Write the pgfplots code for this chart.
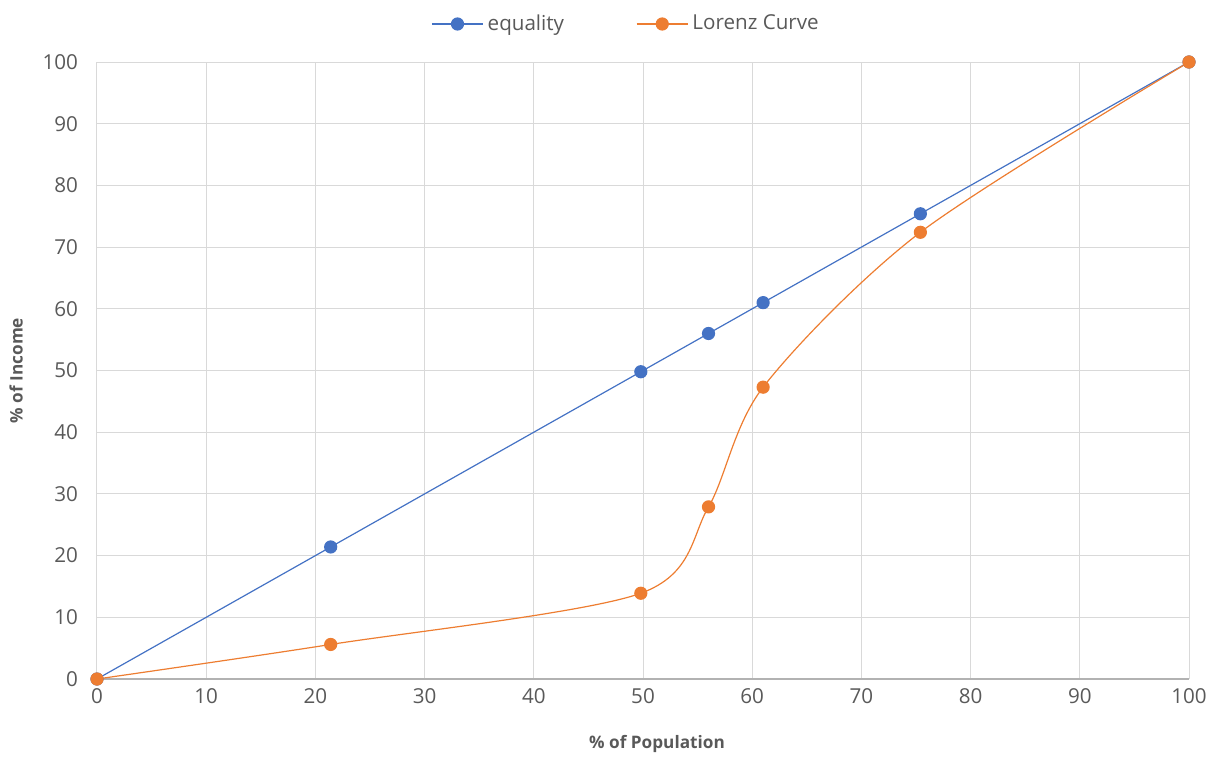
\documentclass[border=0pt]{standalone}
\usepackage{pgfplots}
\pgfplotsset{compat=1.18}
\usepackage{fontspec}
\setmainfont{Open Sans}
\definecolor{exblue}{HTML}{4472C4}
\definecolor{exorange}{HTML}{ED7D31}
\definecolor{txtgray}{HTML}{595959}
\definecolor{gridgray}{HTML}{D9D9D9}
\begin{document}
\begin{tikzpicture}
\path[use as bounding box] (-48.5pt,-41.5pt) rectangle (558pt,339.5pt);
\begin{axis}[
  scale only axis,
  width=546pt, height=308.5pt,
  xmin=0, xmax=100, ymin=0, ymax=100,
  xtick={0,10,...,100}, ytick={0,10,...,100},
  grid=major,
  major grid style={gridgray, line width=0.5pt},
  axis line style={draw=none},
  tick style={draw=none},
  ticklabel style={font=\fontsize{10.3}{11}\selectfont, text=txtgray},
  /pgf/number format/assume math mode=true,
  xticklabel style={yshift=-1pt},
  yticklabel style={xshift=-6pt},
  xlabel={\textbf{\% of Population}},
  ylabel={\textbf{\% of Income}},
  label style={font=\fontsize{8.6}{10}\selectfont, text=txtgray},
  xlabel style={yshift=-9pt, xshift=7pt},
  ylabel style={yshift=3pt},
  legend columns=2,
  legend style={draw=none, fill=none, at={(axis description cs:0.5,1)}, anchor=center, yshift=19pt, xshift=-8pt,
    font=\fontsize{10.3}{11}\selectfont, text=txtgray,
    /tikz/every even column/.append style={column sep=34pt}},
  legend image code/.code={\draw[mark repeat=2,mark phase=2] plot coordinates {(0cm,0cm) (0.45cm,0cm) (0.9cm,0cm)};},
  clip=false,
]
\draw[color=gray!60, line width=0.6pt] (axis cs:0,0) -- (axis cs:100,0);
\addplot[exblue, line width=0.6pt, mark=*, mark size=3pt, mark options={fill=exblue, draw=exblue}]
  coordinates {(0,0) (21.4,21.4) (49.8,49.8) (56,56) (61,61) (75.4,75.4) (100,100)};
\addlegendentry{equality}
\addplot[exorange, line width=0.6pt, smooth, tension=0.5, mark=*, mark size=3pt, mark options={fill=exorange, draw=exorange}]
  coordinates {(0,0) (21.4,5.6) (49.8,13.9) (56,27.9) (61,47.3) (75.4,72.4) (100,100)};
\addlegendentry{Lorenz Curve}
\end{axis}
\end{tikzpicture}
\end{document}
